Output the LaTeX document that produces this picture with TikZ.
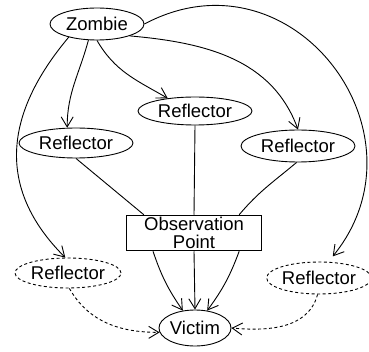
\documentclass[tikz,border=0pt]{standalone}
\usepackage{fontspec}
\setmainfont{Liberation Sans}
\usetikzlibrary{shapes.geometric,arrows.meta}
\begin{document}
\begin{tikzpicture}[x=1pt, y=1pt, line width=0.9pt, >={Straight Barb[length=10pt,width=12pt]}, font=\fontsize{18.5}{20}\selectfont]
	\tikzstyle{refl}=[ellipse, draw, inner sep=0pt, minimum width=114pt, minimum height=30pt]
	\tikzstyle{ghost}=[refl, dash pattern=on 3pt off 2.5pt]
	\tikzstyle{obs}=[rectangle, draw, line width=1.5pt, inner sep=0pt, minimum width=135pt, minimum height=35pt, align=center, font=\fontsize{18.5}{18.5}\selectfont]
	\tikzstyle{dashedge}=[->, dash pattern=on 3pt off 2.5pt]
	\useasboundingbox (0,0) rectangle (369,351);
	\node [refl, minimum width=94pt, minimum height=32pt] (zombie) at (97,327) {Zombie};
	\node [refl, minimum height=28pt] (mref) at (195,240) {Reflector};
	\node [refl] (lref) at (76,208) {Reflector};
	\node [refl, minimum height=32pt] (rref) at (298,205) {Reflector};
	\node [obs] (op) at (194,118) {Observation\\Point};
	\node [ghost, minimum width=106pt] (dlref) at (68,78) {Reflector};
	\node [ghost, minimum width=98pt, minimum height=32pt] (drref) at (319,73) {Reflector};
	\node [refl, minimum width=72pt, minimum height=36pt] (victim) at (195,23) {Victim};
	\draw [->] (zombie.-118) to[out=-105, in=90] (lref.120);
	\draw [->] (zombie.south) to[out=-60, in=150] (mref.155);
	\draw [->] (zombie.-20) to[out=-5, in=110] (rref.north);
	\draw [->] (zombie.-155) to[out=-130, in=135, looseness=1.15] (dlref.100);
	\draw [->, shorten >=7pt] (zombie.east) to[out=28, in=51, looseness=1.42] (drref.60);
	\draw (lref.south) -- (op.160);
	\draw (mref.south) -- (op.north);
	\draw (rref.-95) to[out=-140, in=50] (op.22);
	\draw [->] (op.-156) to[bend right=8] (victim.125);
	\draw [->] (op.south) -- (victim.north);
	\draw [->] (op.-22) to[bend left=8] (victim.55);
	\draw [dashedge] (dlref.-85) to[out=-60, in=180] (victim.187);
	\draw [dashedge] (drref.-95) to[out=-105, in=-5] (victim.east);
\end{tikzpicture}
\end{document}
